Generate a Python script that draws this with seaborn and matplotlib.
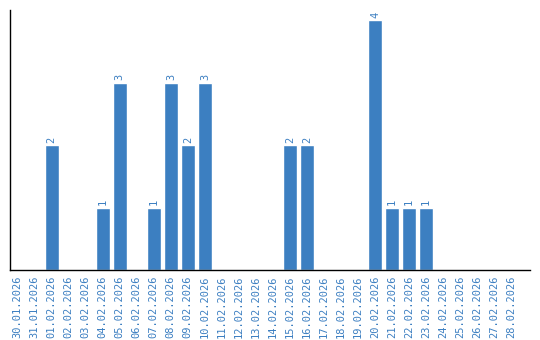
import matplotlib
matplotlib.use("Agg")
import matplotlib.pyplot as plt
import seaborn as sns
import pandas as pd

dates = ["30.01.2026", "31.01.2026"] + [f"{d:02d}.02.2026" for d in range(1, 29)]
values = [0, 0, 2, 0, 0, 1, 3, 0, 1, 3, 2, 3, 0, 0, 0, 0, 2, 2, 0, 0, 0, 4, 1, 1, 1, 0, 0, 0, 0, 0]

color = "#3c7fc1"
sns.set_style("white")
plt.rcParams['font.family'] = ['DejaVu Sans Mono', 'DejaVu Sans']

fig = plt.figure(figsize=(5.4, 3.4), dpi=100)
ax = fig.add_axes([10/540, 70/340, 520/540, 260/340])
df = pd.DataFrame({"date": dates, "value": values})
sns.barplot(data=df, x="date", y="value", color=color, saturation=1, width=0.83, ax=ax)
ax.set_ylim(0, 4.16)
ax.set_xlim(-0.45, len(dates) + 0.1)
ax.set_xlabel("")
ax.set_ylabel("")
ax.set_yticks([])
ax.tick_params(axis="x", length=0, labelsize=7.5, labelcolor=color, rotation=90, pad=4)
for s in ["top", "right"]:
    ax.spines[s].set_visible(False)
for s in ["left", "bottom"]:
    ax.spines[s].set_color("black")
    ax.spines[s].set_linewidth(1)
for i, v in enumerate(values):
    if v > 0:
        ax.text(i, v + 0.04, str(v), rotation=90, ha="center", va="bottom",
                fontsize=7.5, color=color)
fig.savefig("out.png", dpi=100)
